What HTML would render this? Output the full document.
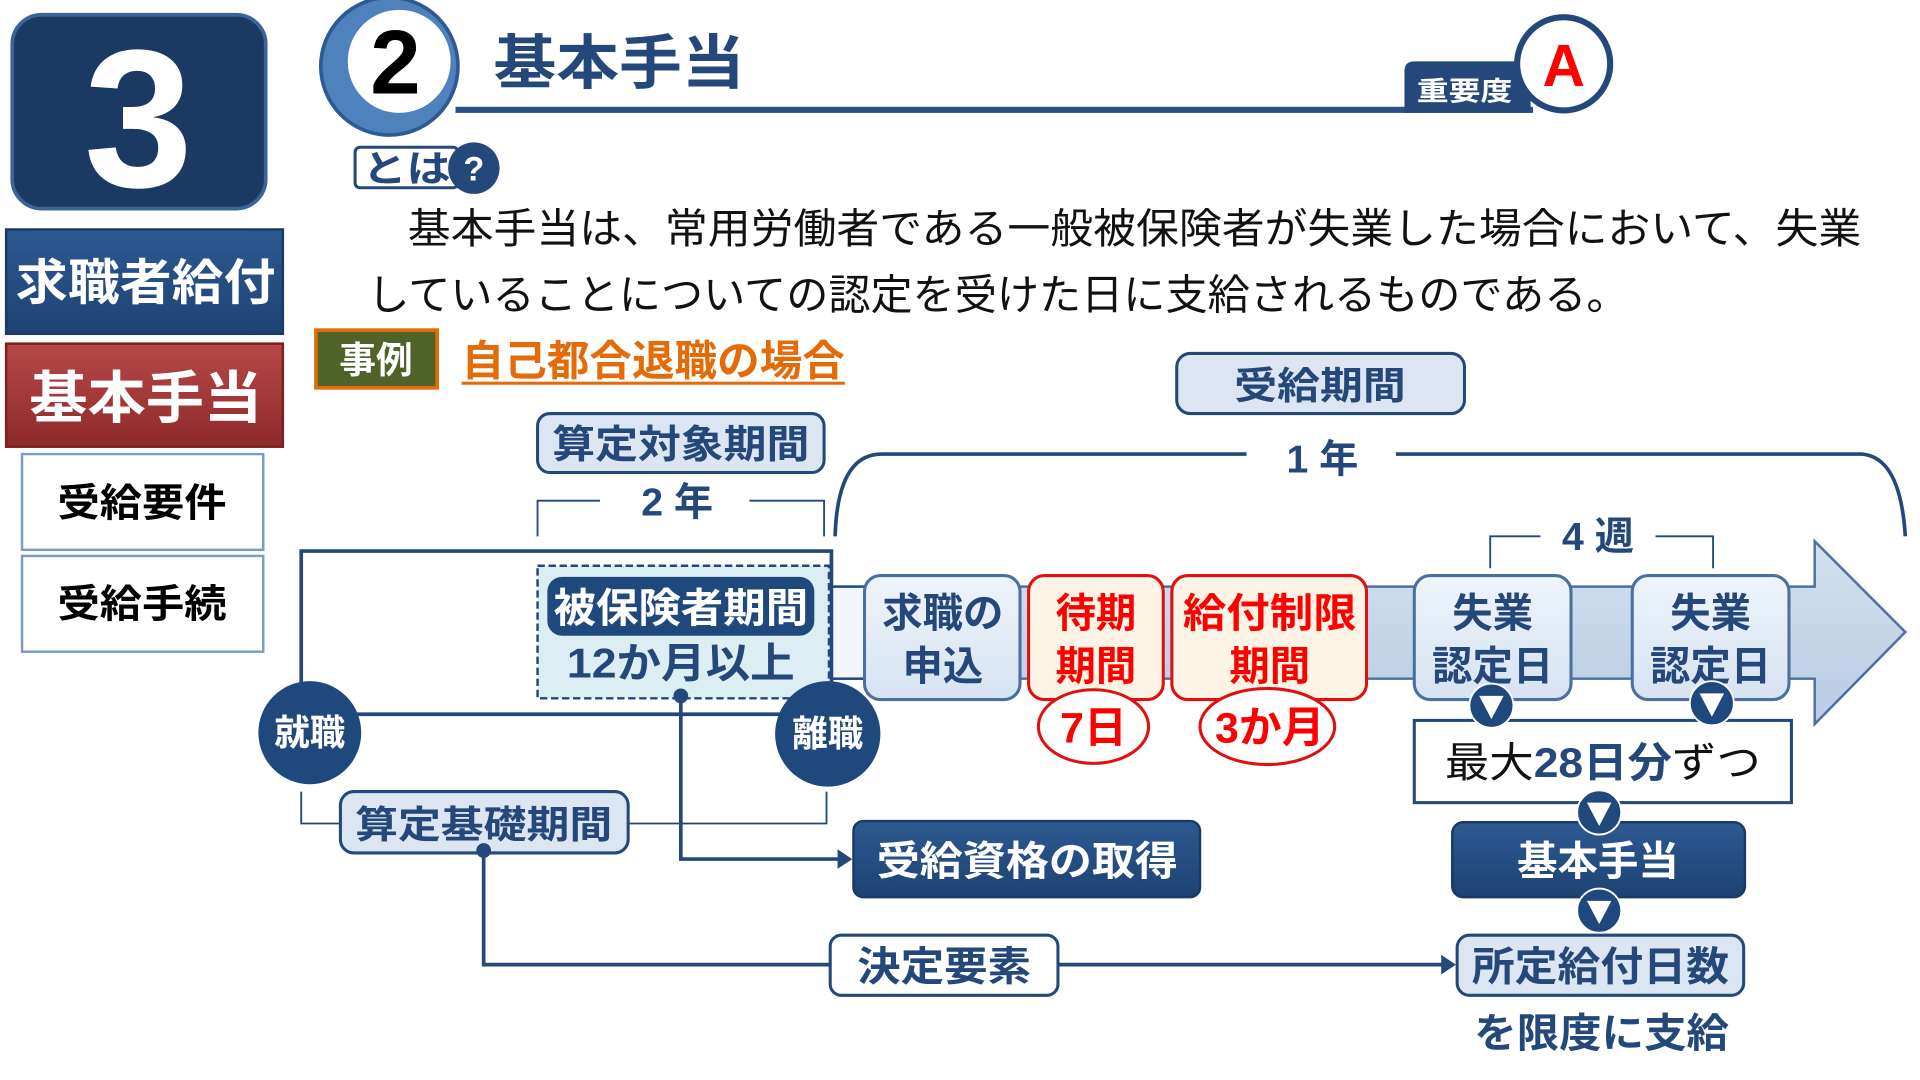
<!DOCTYPE html>
<html><head><meta charset="utf-8"><style>
html,body{margin:0;padding:0;background:#fff;}
svg{display:block;}
text{font-family:"Liberation Sans","Noto Sans CJK JP",sans-serif;}
.b{font-weight:700;}
</style></head><body>
<svg width="1920" height="1080" viewBox="0 0 1568 880" preserveAspectRatio="none" xmlns="http://www.w3.org/2000/svg">
<defs>
<linearGradient id="lb" x1="0" y1="0" x2="0" y2="1"><stop offset="0" stop-color="#eef4fb"/><stop offset="1" stop-color="#d6e3f2"/></linearGradient>
<linearGradient id="nv" x1="0" y1="0" x2="0" y2="1"><stop offset="0" stop-color="#2d5a92"/><stop offset="1" stop-color="#1d4272"/></linearGradient>
<linearGradient id="rd" x1="0" y1="0" x2="0" y2="1"><stop offset="0" stop-color="#b84848"/><stop offset="1" stop-color="#8e2a2a"/></linearGradient>
<linearGradient id="band" x1="0" y1="0" x2="0" y2="1"><stop offset="0" stop-color="#d4e0ef"/><stop offset="1" stop-color="#b8cce4"/></linearGradient>
</defs>

<rect x="10" y="12" width="207" height="158" rx="24" fill="#1b3a63" stroke="#3c6496" stroke-width="3"/>
<text x="113" y="152" text-anchor="middle" font-size="160" fill="#fff" class="b">3</text>
<rect x="5" y="187" width="226" height="85" fill="url(#nv)" stroke="#1b3a63" stroke-width="2"/>
<text x="13" y="244" font-size="40" fill="#fff" class="b" textLength="212" lengthAdjust="spacingAndGlyphs">求職者給付</text>
<rect x="5" y="280" width="226" height="84" fill="url(#rd)" stroke="#7a2020" stroke-width="2"/>
<text x="24" y="340" font-size="46" fill="#fff" class="b" textLength="190" lengthAdjust="spacingAndGlyphs">基本手当</text>
<rect x="18" y="370" width="197" height="78" fill="#fff" stroke="#7a9cc6" stroke-width="2"/>
<text x="47" y="421" font-size="32" fill="#000" class="b" textLength="138" lengthAdjust="spacingAndGlyphs">受給要件</text>
<rect x="18" y="453" width="197" height="78" fill="#fff" stroke="#7a9cc6" stroke-width="2"/>
<text x="47" y="503" font-size="32" fill="#000" class="b" textLength="138" lengthAdjust="spacingAndGlyphs">受給手続</text>

<circle cx="318" cy="54" r="56" fill="#4f81bd" stroke="#2d5a92" stroke-width="3"/>
<circle cx="326" cy="50" r="42" fill="#fff"/>
<text x="323" y="76" text-anchor="middle" font-size="74" fill="#000" class="b">2</text>
<text x="403" y="68" font-size="48" fill="#24487a" class="b" textLength="205" lengthAdjust="spacingAndGlyphs">基本手当</text>
<rect x="372" y="87" width="880" height="5" fill="#2a5287"/>
<path d="M1147 92 V58 Q1147 50 1155 50 H1250 V92 Z" fill="#24487a"/>
<text x="1157" y="82" font-size="22" fill="#fff" class="b" textLength="78" lengthAdjust="spacingAndGlyphs">重要度</text>
<circle cx="1277" cy="52" r="38" fill="#fff" stroke="#24487a" stroke-width="5"/>
<text x="1277" y="70" text-anchor="middle" font-size="48" fill="#f00" class="b">A</text>

<rect x="290" y="120" width="84" height="33" rx="4" fill="#fff" stroke="#24487a" stroke-width="2.5"/>
<text x="296" y="148" font-size="30" fill="#24487a" class="b" textLength="72" lengthAdjust="spacingAndGlyphs">とは</text>
<circle cx="387" cy="137" r="21" fill="#24487a"/>
<text x="387" y="147" text-anchor="middle" font-size="28" fill="#fff" class="b">?</text>

<text x="333" y="198" font-size="33.9" fill="#111" textLength="1187" lengthAdjust="spacingAndGlyphs">基本手当は、常用労働者である一般被保険者が失業した場合において、失業</text>
<text x="300" y="252" font-size="34.2" fill="#111" textLength="1030" lengthAdjust="spacingAndGlyphs">していることについての認定を受けた日に支給されるものである。</text>

<rect x="258" y="269" width="99" height="47" fill="#4f6228" stroke="#e36c09" stroke-width="3"/>
<text x="307" y="304" text-anchor="middle" font-size="30" fill="#fff" class="b">事例</text>
<text x="377" y="306" font-size="34.5" fill="#e36c09" class="b" textLength="313" lengthAdjust="spacingAndGlyphs">自己都合退職の場合</text>
<rect x="377" y="311" width="313" height="2.5" fill="#e36c09"/>

<rect x="961" y="288" width="235" height="49" rx="11" fill="#dce6f2" stroke="#24487a" stroke-width="2.5"/>
<text x="1008" y="325" font-size="31" fill="#24487a" class="b" textLength="140" lengthAdjust="spacingAndGlyphs">受給期間</text>
<path d="M682 437 Q684 370 720 370 H1018 M1140 370 H1520 Q1552 372 1556 437" fill="none" stroke="#24487a" stroke-width="3"/>
<text x="1080" y="385" text-anchor="middle" font-size="32" fill="#24487a" class="b">1 年</text>

<rect x="439" y="337" width="234" height="48" rx="10" fill="#dce6f2" stroke="#24487a" stroke-width="2.5"/>
<text x="451" y="373" font-size="32" fill="#24487a" class="b" textLength="210" lengthAdjust="spacingAndGlyphs">算定対象期間</text>
<path d="M439 437 V408 H490 M612 408 H673 V437" fill="none" stroke="#24487a" stroke-width="1.5"/>
<text x="553" y="420" text-anchor="middle" font-size="32" fill="#24487a" class="b">2 年</text>

<path d="M680 478 H1482 V441 L1556 515 L1482 590 V553 H680 Z" fill="url(#band)" stroke="#4a6fa0" stroke-width="2"/>
<rect x="679" y="478" width="30" height="75" fill="#f2f6fb" stroke="#24487a" stroke-width="2"/>

<path d="M252 582 H676 M246 575 V449 H679 V560" fill="none" stroke="#24487a" stroke-width="3"/>
<rect x="439" y="461" width="238" height="108" fill="#daeef3" stroke="#24487a" stroke-width="2" stroke-dasharray="6,3"/>
<rect x="447" y="470" width="218" height="48" rx="12" fill="#1f497d"/>
<text x="452" y="507" font-size="33" fill="#fff" class="b" textLength="208" lengthAdjust="spacingAndGlyphs">被保険者期間</text>
<text x="463" y="552" font-size="34" fill="#24487a" class="b" textLength="186" lengthAdjust="spacingAndGlyphs">12か月以上</text>
<circle cx="556" cy="567" r="6" fill="#24487a"/>
<path d="M556 567 V700 H688" fill="none" stroke="#24487a" stroke-width="3"/>
<path d="M696 700 L684 692 V708 Z" fill="#24487a"/>

<circle cx="253" cy="597" r="42" fill="#1f497d"/>
<text x="253" y="607" text-anchor="middle" font-size="29" fill="#fff" class="b">就職</text>
<circle cx="676" cy="598" r="43" fill="#1f497d"/>
<text x="676" y="608" text-anchor="middle" font-size="29" fill="#fff" class="b">離職</text>

<path d="M246 645 V671 H278 M513 671 H675 V645" fill="none" stroke="#24487a" stroke-width="1.5"/>
<rect x="278" y="645" width="235" height="50" rx="11" fill="#dce6f2" stroke="#24487a" stroke-width="2.5"/>
<text x="290" y="683" font-size="31" fill="#24487a" class="b" textLength="210" lengthAdjust="spacingAndGlyphs">算定基礎期間</text>
<circle cx="395" cy="693" r="6" fill="#24487a"/>
<path d="M395 693 V786 H678 M864 786 H1180" fill="none" stroke="#24487a" stroke-width="3"/>
<path d="M1189 786 L1177 778 V794 Z" fill="#24487a"/>

<rect x="697" y="669" width="283" height="62" rx="8" fill="url(#nv)" stroke="#1b3a63" stroke-width="2"/>
<text x="716" y="713" font-size="33" fill="#fff" class="b" textLength="246" lengthAdjust="spacingAndGlyphs">受給資格の取得</text>
<rect x="678" y="762" width="186" height="49" rx="9" fill="#fff" stroke="#24487a" stroke-width="2.5"/>
<text x="700" y="799" font-size="33" fill="#24487a" class="b" textLength="142" lengthAdjust="spacingAndGlyphs">決定要素</text>

<rect x="706" y="469" width="127" height="101" rx="13" fill="url(#lb)" stroke="#4a6fa0" stroke-width="2.5"/>
<text x="770" y="511" text-anchor="middle" font-size="33" fill="#24487a" class="b">求職の</text>
<text x="770" y="554" text-anchor="middle" font-size="33" fill="#24487a" class="b">申込</text>
<rect x="840" y="469" width="110" height="101" rx="13" fill="#fdf4e6" stroke="#e01010" stroke-width="2.5"/>
<text x="895" y="511" text-anchor="middle" font-size="33" fill="#f00" class="b">待期</text>
<text x="895" y="554" text-anchor="middle" font-size="33" fill="#f00" class="b">期間</text>
<rect x="957" y="469" width="159" height="101" rx="13" fill="#fdf4e6" stroke="#e01010" stroke-width="2.5"/>
<text x="966" y="511" font-size="33" fill="#f00" class="b" textLength="142" lengthAdjust="spacingAndGlyphs">給付制限</text>
<text x="1037" y="554" text-anchor="middle" font-size="33" fill="#f00" class="b">期間</text>
<ellipse cx="893" cy="592" rx="45" ry="30" fill="#fff" stroke="#e01010" stroke-width="2.5"/>
<text x="893" y="605" text-anchor="middle" font-size="35" fill="#f00" class="b">7日</text>
<ellipse cx="1035" cy="592" rx="55" ry="31" fill="#fff" stroke="#e01010" stroke-width="2.5"/>
<text x="1037" y="605" text-anchor="middle" font-size="35" fill="#f00" class="b">3か月</text>

<path d="M1217 463 V437 H1258 M1352 437 H1399 V463" fill="none" stroke="#24487a" stroke-width="1.5"/>
<text x="1305" y="448" text-anchor="middle" font-size="32" fill="#24487a" class="b">4 週</text>

<rect x="1155" y="469" width="128" height="101" rx="13" fill="url(#lb)" stroke="#4a6fa0" stroke-width="2.5"/>
<text x="1219" y="511" text-anchor="middle" font-size="33" fill="#24487a" class="b">失業</text>
<text x="1219" y="554" text-anchor="middle" font-size="33" fill="#24487a" class="b">認定日</text>
<rect x="1333" y="469" width="128" height="101" rx="13" fill="url(#lb)" stroke="#4a6fa0" stroke-width="2.5"/>
<text x="1397" y="511" text-anchor="middle" font-size="33" fill="#24487a" class="b">失業</text>
<text x="1397" y="554" text-anchor="middle" font-size="33" fill="#24487a" class="b">認定日</text>

<rect x="1155" y="587" width="308" height="67" fill="#fff" stroke="#24487a" stroke-width="2.5"/>
<text x="1180" y="633" font-size="34" fill="#111" textLength="258" lengthAdjust="spacingAndGlyphs">最大<tspan fill="#24487a" class="b">28日分</tspan>ずつ</text>

<rect x="1186" y="670" width="239" height="61" rx="9" fill="url(#nv)" stroke="#1b3a63" stroke-width="2"/>
<text x="1305" y="713" text-anchor="middle" font-size="33" fill="#fff" class="b">基本手当</text>
<rect x="1190" y="762" width="234" height="49" rx="10" fill="#dce6f2" stroke="#24487a" stroke-width="2.5"/>
<text x="1202" y="799" font-size="33" fill="#24487a" class="b" textLength="210" lengthAdjust="spacingAndGlyphs">所定給付日数</text>
<text x="1204" y="853" font-size="33" fill="#24487a" class="b" textLength="208" lengthAdjust="spacingAndGlyphs">を限度に支給</text>

<g fill="#1f497d" stroke="#fff" stroke-width="1.5">
<circle cx="1218" cy="575" r="18"/><circle cx="1398" cy="573" r="18"/>
<circle cx="1306" cy="662" r="18"/><circle cx="1306" cy="742" r="18"/>
</g>
<g fill="#fff">
<path d="M1208 567 H1228 L1218 586 Z"/><path d="M1388 565 H1408 L1398 584 Z"/>
<path d="M1296 654 H1316 L1306 673 Z"/><path d="M1296 734 H1316 L1306 753 Z"/>
</g>
</svg>
</body></html>
